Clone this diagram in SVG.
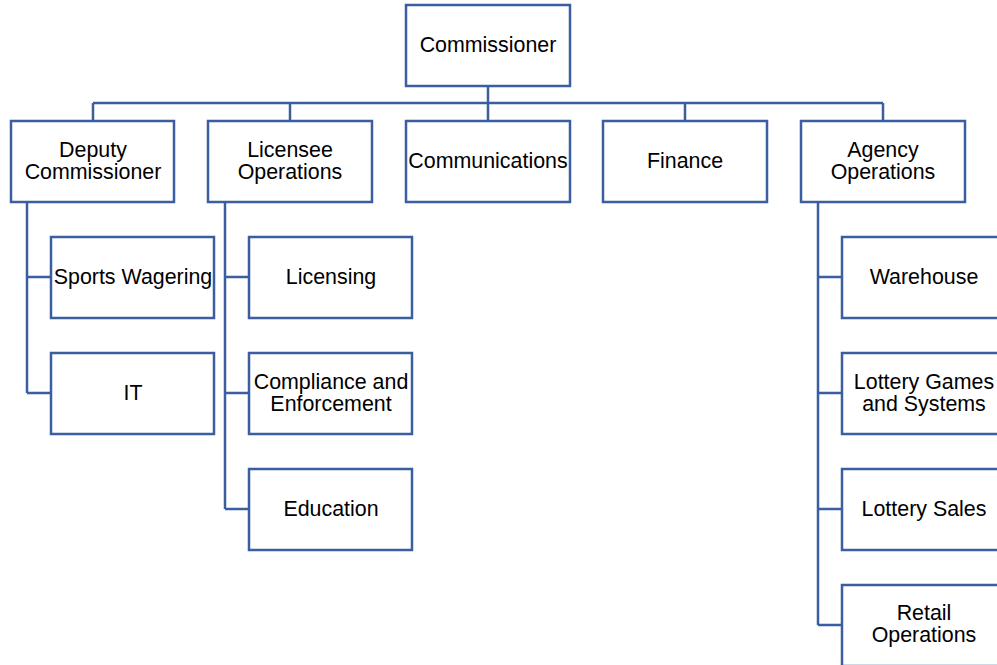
<svg xmlns="http://www.w3.org/2000/svg" width="997" height="665" viewBox="0 0 997 665">
<style>
.b{fill:#fff;stroke:#3B5EA0;stroke-width:2.5}
.c{fill:none;stroke:#3B5EA0;stroke-width:2.5}
text{font-family:"Liberation Sans",Arial,sans-serif;font-size:21.4px;fill:#000;text-anchor:middle}
</style>
<rect width="997" height="665" fill="#fff"/>
<g id="connectors">
<path class="c" d="M488 86V103M93 103H883M93 103V121M290 103V121M488 103V121M685 103V121M883 103V121"/>
<path class="c" d="M27 202V393M27 277H51M27 393H51"/>
<path class="c" d="M225 202V509M225 277H249M225 393H249M225 509H249"/>
<path class="c" d="M818 202V625M818 277H842M818 393H842M818 509H842M818 625H842"/>
</g>
<g id="commissioner"><rect class="b" x="406" y="5" width="164" height="81"/><text x="488" y="52">Commissioner</text></g>
<g id="deputy"><rect class="b" x="11" y="121" width="163" height="81"/><text x="93" y="157">Deputy</text><text x="93" y="179">Commissioner</text></g>
<g id="licensee"><rect class="b" x="208" y="121" width="164" height="81"/><text x="290" y="157">Licensee</text><text x="290" y="179">Operations</text></g>
<g id="communications"><rect class="b" x="406" y="121" width="164" height="81"/><text x="488" y="168">Communications</text></g>
<g id="finance"><rect class="b" x="603" y="121" width="164" height="81"/><text x="685" y="168">Finance</text></g>
<g id="agency"><rect class="b" x="801" y="121" width="164" height="81"/><text x="883" y="157">Agency</text><text x="883" y="179">Operations</text></g>
<g id="sports"><rect class="b" x="51" y="237" width="163" height="81"/><text x="133" y="284">Sports Wagering</text></g>
<g id="it"><rect class="b" x="51" y="353" width="163" height="81"/><text x="133" y="400">IT</text></g>
<g id="licensing"><rect class="b" x="249" y="237" width="163" height="81"/><text x="331" y="284">Licensing</text></g>
<g id="compliance"><rect class="b" x="249" y="353" width="163" height="81"/><text x="331" y="389">Compliance and</text><text x="331" y="411">Enforcement</text></g>
<g id="education"><rect class="b" x="249" y="469" width="163" height="81"/><text x="331" y="516">Education</text></g>
<g id="warehouse"><rect class="b" x="842" y="237" width="163" height="81"/><text x="924" y="284">Warehouse</text></g>
<g id="lotterygames"><rect class="b" x="842" y="353" width="163" height="81"/><text x="924" y="389">Lottery Games</text><text x="924" y="411">and Systems</text></g>
<g id="lotterysales"><rect class="b" x="842" y="469" width="163" height="81"/><text x="924" y="516">Lottery Sales</text></g>
<g id="retail"><rect class="b" x="842" y="585" width="163" height="81"/><text x="924" y="620">Retail</text><text x="924" y="642">Operations</text></g>
</svg>
